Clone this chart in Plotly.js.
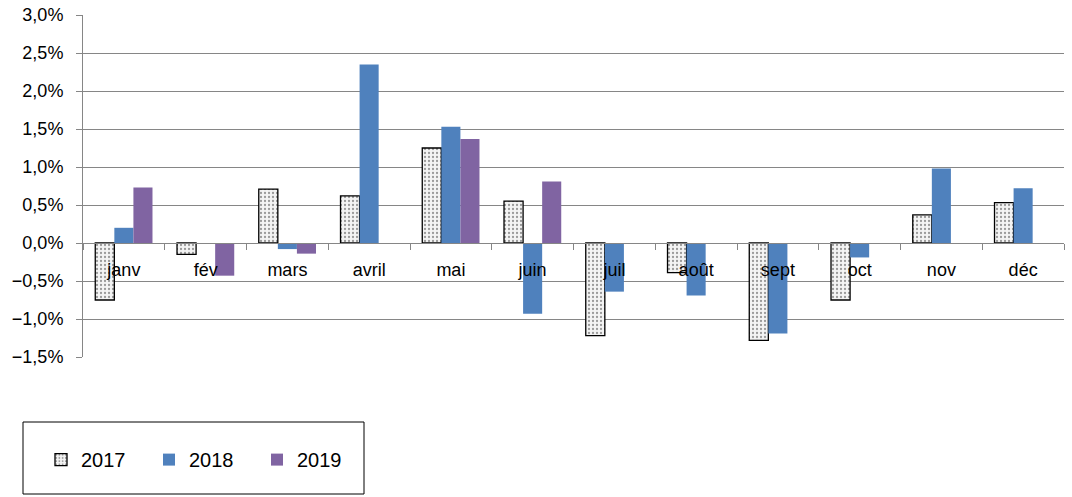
<!DOCTYPE html>
<html>
<head>
<meta charset="utf-8">
<script src="https://cdn.plot.ly/plotly-3.0.1.min.js"></script>
<style>html,body{margin:0;padding:0;background:#fff}#chart{width:1072px;height:497px}</style>
</head>
<body>
<div id="chart"></div>
<script>
const months = ['janv','fév','mars','avril','mai','juin','juil','août','sept','oct','nov','déc'];
const v2017 = [-0.75, -0.15, 0.71, 0.62, 1.25, 0.55, -1.22, -0.39, -1.28, -0.75, 0.37, 0.53];
const v2018 = [0.20, -0.01, -0.08, 2.35, 1.53, -0.93, -0.64, -0.69, -1.19, -0.19, 0.98, 0.72];
const v2019 = [0.73, -0.43, -0.14, -0.01, 1.37, 0.81, null, null, null, null, null, null];
const seriesNames = ['2017','2018','2019'];

const traces = [
  {type:'bar', name:seriesNames[0], x:months, y:v2017,
   marker:{color:'#f0f0f0', pattern:{shape:'.', fgcolor:'#9a9a9a', bgcolor:'#f4f4f4', size:4, solidity:0.25},
           line:{color:'#000', width:1.3}}},
  {type:'bar', name:seriesNames[1], x:months, y:v2018, marker:{color:'#4F81BD', line:{width:0}}},
  {type:'bar', name:seriesNames[2], x:months, y:v2019, marker:{color:'#8064A2', line:{width:0}}}
];

const layout = {
  width:1072, height:497,
  margin:{l:83, r:8, t:15, b:140},
  paper_bgcolor:'#fff', plot_bgcolor:'#fff',
  separators:', ',
  font:{family:'Liberation Sans, Arial, sans-serif', color:'#000', size:18},
  barmode:'group', bargap:0.30, bargroupgap:0,
  showlegend:true,
  legend:{orientation:'h', x:(41-83)/981, xanchor:'left', y:-0.30, yanchor:'middle',
          font:{size:20, color:'#000'}, bgcolor:'rgba(0,0,0,0)', borderwidth:0,
          entrywidth:63, entrywidthmode:'pixels', itemwidth:30, traceorder:'normal'},
  xaxis:{type:'category', anchor:'free', position:1/3, showline:true, linecolor:'#868686', linewidth:1,
         ticks:'outside', tickson:'boundaries', ticklen:6, tickcolor:'#868686',
         showgrid:false, zeroline:false, ticklabelstandoff:10, tickfont:{size:18, color:'#000'},
         layer:'above traces', fixedrange:true},
  yaxis:{range:[-1.5, 3.0], dtick:0.5, tick0:0, tickformat:'.1f', ticksuffix:'%',
         showgrid:true, gridcolor:'#868686', gridwidth:1, zeroline:false,
         showline:true, linecolor:'#868686', linewidth:1, ticks:'outside', ticklen:6, tickcolor:'#868686',
         ticklabelstandoff:9, tickfont:{size:18, color:'#000'}, fixedrange:true},
  shapes:[{type:'rect', xref:'paper', yref:'paper', x0:(23-83)/981, x1:(364-83)/981,
           y0:(357-494)/342, y1:(357-422)/342, line:{color:'#000', width:1}, fillcolor:'rgba(0,0,0,0)'}]
};

Plotly.newPlot('chart', traces, layout, {displayModeBar:false, staticPlot:true});
</script>
</body>
</html>
